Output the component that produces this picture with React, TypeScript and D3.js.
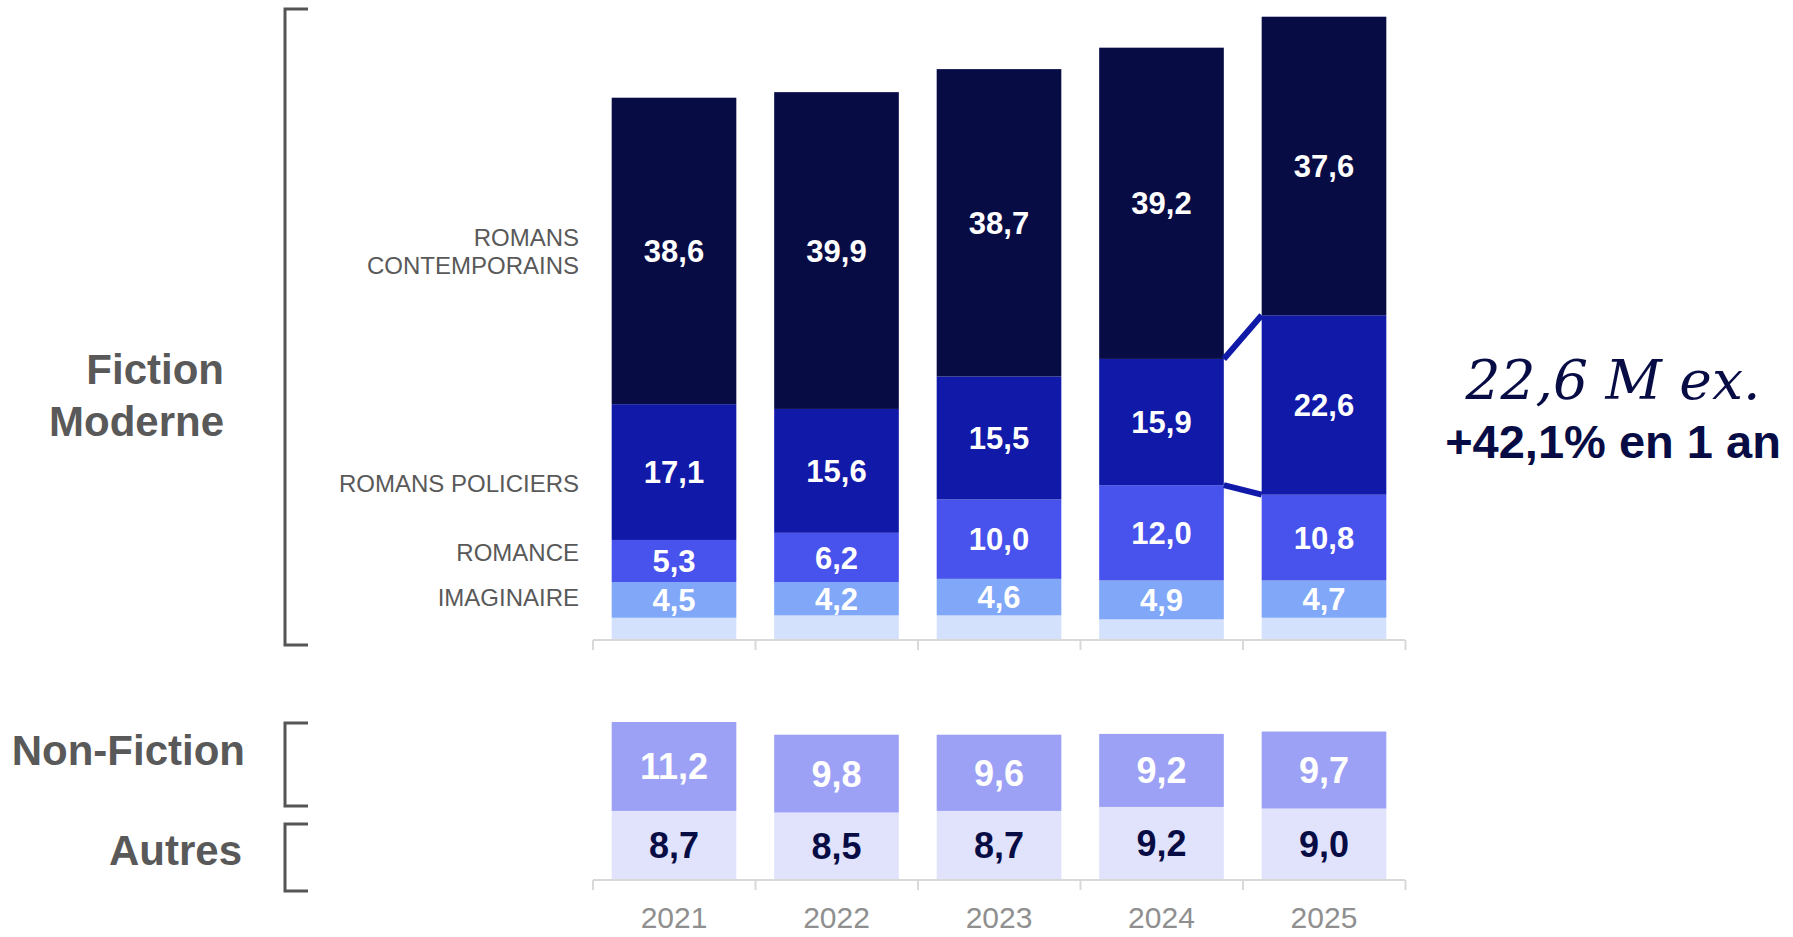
import React from "react";
import * as d3 from "d3";

// années
const years = ["2021", "2022", "2023", "2024", "2025"];

// Fiction moderne (M ex.), du bas vers le haut
const autresFiction = [2.8, 3.1, 3.1, 2.6, 2.8];
const imaginaire = [4.5, 4.2, 4.6, 4.9, 4.7];
const romance = [5.3, 6.2, 10.0, 12.0, 10.8];
const policiers = [17.1, 15.6, 15.5, 15.9, 22.6];
const contemporains = [38.6, 39.9, 38.7, 39.2, 37.6];

// Non-fiction et autres
const autres = [8.7, 8.5, 8.7, 9.2, 9.0];
const nonFiction = [11.2, 9.8, 9.6, 9.2, 9.7];

const fictionKeys = ["fond", "imaginaire", "romance", "policiers", "contemporains"];
const fictionColors = ["#d4e1fc", "#80a7f8", "#4852ec", "#1019a8", "#080c45"];
const bottomKeys = ["autres", "nonFiction"];
const bottomColors = ["#e1e3fd", "#9ca1f5"];
const bottomLabelColors = ["#080c45", "#ffffff"];

const W = 1793;
const H = 937;
const GREY = "#595959";
const NAVY = "#080c45";
const SANS = "'Liberation Sans', Arial, sans-serif";

const fmt = (v: number) => d3.format(".1f")(v).replace(".", ",");

export default function App() {
  const fictionRows = years.map((y, i) => ({
    year: y,
    fond: autresFiction[i],
    imaginaire: imaginaire[i],
    romance: romance[i],
    policiers: policiers[i],
    contemporains: contemporains[i],
  }));
  const bottomRows = years.map((y, i) => ({
    year: y,
    autres: autres[i],
    nonFiction: nonFiction[i],
  }));

  const x = d3
    .scaleBand<string>()
    .domain(years)
    .range([593, 1405])
    .paddingInner(0.233)
    .paddingOuter(0.115);

  const pxPerUnit = 7.94;
  const yTop = d3.scaleLinear().domain([0, 80]).range([640, 640 - 80 * pxPerUnit]);
  const yBot = d3.scaleLinear().domain([0, 25]).range([880, 880 - 25 * pxPerUnit]);

  const fictionStack = d3.stack<any>().keys(fictionKeys)(fictionRows);
  const bottomStack = d3.stack<any>().keys(bottomKeys)(bottomRows);

  const [r0, r1] = x.range();
  const tickXs = d3.range(years.length + 1).map((i) => r0 + i * x.step());

  // connecteur 2024 -> 2025 sur les romans policiers
  const pol = fictionStack[3];
  const x4r = x("2024")! + x.bandwidth();
  const x5l = x("2025")!;

  const axis = (y0: number) => (
    <g>
      <line x1={r0} x2={r1} y1={y0} y2={y0} stroke="#d9d9d9" strokeWidth={2} />
      {tickXs.map((t) => (
        <line key={t} x1={t} x2={t} y1={y0} y2={y0 + 10} stroke="#d9d9d9" strokeWidth={2} />
      ))}
    </g>
  );

  const bracket = (top: number, bottom: number) => (
    <path
      d={`M308,${top} H285 V${bottom} H308`}
      fill="none"
      stroke="#555555"
      strokeWidth={3}
    />
  );

  return (
    <svg
      width={W}
      height={H}
      style={{ position: "absolute", left: 0, top: 0, background: "#fff" }}
      fontFamily={SANS}
    >
      {/* fiction moderne */}
      {fictionStack.map((layer, li) => (
        <g key={layer.key} fill={fictionColors[li]}>
          {layer.map((d) => (
            <rect
              key={d.data.year}
              x={x(d.data.year)}
              y={yTop(d[1])}
              width={x.bandwidth()}
              height={yTop(d[0]) - yTop(d[1])}
            />
          ))}
        </g>
      ))}
      {fictionStack.slice(1).map((layer) => (
        <g key={"l" + layer.key}>
          {layer.map((d) => (
            <text
              key={d.data.year}
              x={x(d.data.year)! + x.bandwidth() / 2}
              y={(yTop(d[0]) + yTop(d[1])) / 2}
              dy="0.36em"
              textAnchor="middle"
              fill="#ffffff"
              fontWeight="bold"
              fontSize={31}
            >
              {fmt(d[1] - d[0])}
            </text>
          ))}
        </g>
      ))}

      <g stroke="#1019a8" strokeWidth={6} strokeLinecap="butt">
        <line x1={x4r} y1={yTop(pol[3][1])} x2={x5l} y2={yTop(pol[4][1])} />
        <line x1={x4r} y1={yTop(pol[3][0])} x2={x5l} y2={yTop(pol[4][0])} />
      </g>

      {axis(640)}

      {/* non-fiction / autres */}
      {bottomStack.map((layer, li) => (
        <g key={layer.key}>
          {layer.map((d) => (
            <g key={d.data.year}>
              <rect
                x={x(d.data.year)}
                y={yBot(d[1])}
                width={x.bandwidth()}
                height={yBot(d[0]) - yBot(d[1])}
                fill={bottomColors[li]}
              />
              <text
                x={x(d.data.year)! + x.bandwidth() / 2}
                y={(yBot(d[0]) + yBot(d[1])) / 2}
                dy="0.36em"
                textAnchor="middle"
                fill={bottomLabelColors[li]}
                fontWeight="bold"
                fontSize={36}
              >
                {fmt(d[1] - d[0])}
              </text>
            </g>
          ))}
        </g>
      ))}

      {axis(880)}

      {years.map((y) => (
        <text
          key={y}
          x={x(y)! + x.bandwidth() / 2}
          y={928}
          textAnchor="middle"
          fill="#8f8f8f"
          fontSize={30}
        >
          {y}
        </text>
      ))}

      {/* libellés des catégories */}
      <g fill={GREY} fontSize={24} textAnchor="end">
        <text x={579} y={246}>ROMANS</text>
        <text x={579} y={274}>CONTEMPORAINS</text>
        <text x={579} y={492}>ROMANS POLICIERS</text>
        <text x={579} y={561}>ROMANCE</text>
        <text x={579} y={606}>IMAGINAIRE</text>
      </g>

      {bracket(9, 645)}
      {bracket(723, 806)}
      {bracket(824, 891)}

      <g fill={GREY} fontSize={42} fontWeight="bold" textAnchor="end">
        <text x={224} y={384}>Fiction</text>
        <text x={224} y={436}>Moderne</text>
        <text x={245} y={765}>Non-Fiction</text>
        <text x={242} y={865}>Autres</text>
      </g>

      {/* annotation */}
      <text
        x={1613}
        y={399}
        textAnchor="middle"
        fill={NAVY}
        fontSize={55}
        fontStyle="italic"
        fontFamily="'DejaVu Serif', serif"
      >
        22,6 M ex.
      </text>
      <text x={1613} y={458} textAnchor="middle" fill={NAVY} fontSize={47} fontWeight="bold">
        +42,1% en 1 an
      </text>
    </svg>
  );
}
